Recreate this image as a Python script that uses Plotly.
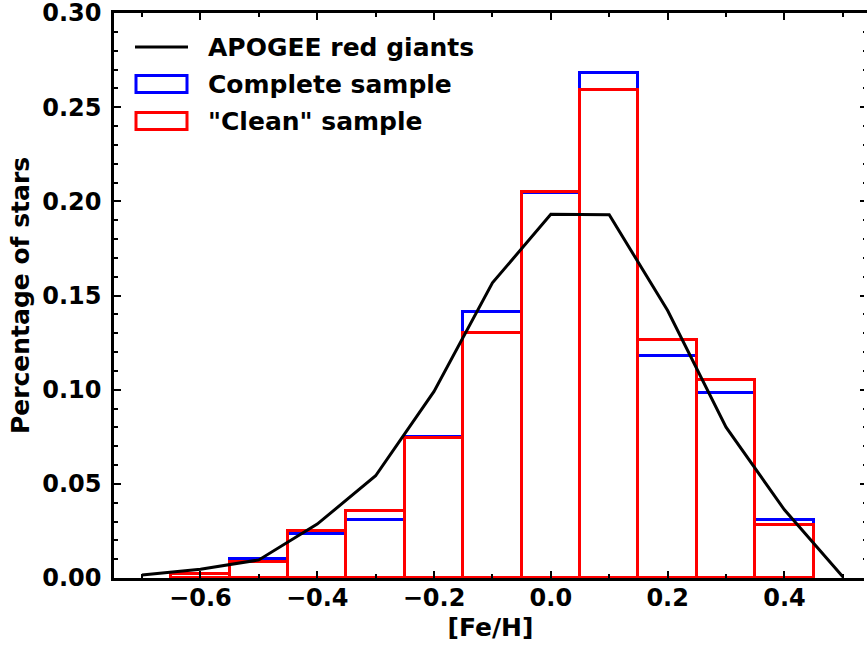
import plotly.graph_objects as go

# ---- data ----
bin_centers = [-0.6, -0.5, -0.4, -0.3, -0.2, -0.1, 0.0, 0.1, 0.2, 0.3, 0.4]
complete_sample = [0.002, 0.0101, 0.0234, 0.0309, 0.0750, 0.1413, 0.2043, 0.268, 0.118, 0.098, 0.0307]
clean_sample = [0.002, 0.0087, 0.0250, 0.0356, 0.0746, 0.1302, 0.2052, 0.259, 0.1266, 0.1052, 0.0284]
bin_width = 0.1

apogee_x = [-0.7, -0.6, -0.5, -0.4, -0.3, -0.2, -0.1, 0.0, 0.1, 0.2, 0.3, 0.4, 0.5]
apogee_y = [0.0016, 0.0046, 0.0096, 0.0286, 0.0543, 0.0991, 0.1567, 0.1931, 0.1929, 0.142, 0.0801, 0.0362, 0.0007]

legend_labels = ["APOGEE red giants", "Complete sample", '"Clean" sample']
x_title = "[Fe/H]"
y_title = "Percentage of stars"

# ---- styling ----
FONT = "DejaVu Sans"
FS_TICK = 24
FS_TEXT = 25
W, H = 867, 646
ML, MR, MT, MB = 114, 0, 13, 68
PW, PH = W - ML - MR, H - MT - MB
LW = 3


def px(xp):
    return (xp - ML) / PW


def py(yp):
    return (H - MB - yp) / PH


fig = go.Figure()
fig.add_trace(go.Bar(x=bin_centers, y=complete_sample, width=bin_width,
                     marker=dict(color="rgba(0,0,0,0)", line=dict(color="#0000ff", width=LW)),
                     showlegend=False, name=legend_labels[1]))
fig.add_trace(go.Bar(x=bin_centers, y=clean_sample, width=bin_width,
                     marker=dict(color="rgba(0,0,0,0)", line=dict(color="#ff0000", width=LW)),
                     showlegend=False, name=legend_labels[2]))
fig.add_trace(go.Scatter(x=apogee_x, y=apogee_y, mode="lines",
                         line=dict(color="black", width=LW),
                         showlegend=False, name=legend_labels[0]))

# manual legend (matplotlib-style)
rows_y = [47, 84, 121]
fig.add_shape(type="line", xref="paper", yref="paper",
              x0=px(135), x1=px(188), y0=py(rows_y[0]), y1=py(rows_y[0]),
              line=dict(color="black", width=LW))
for yc, col in zip(rows_y[1:], ["#0000ff", "#ff0000"]):
    fig.add_shape(type="rect", xref="paper", yref="paper",
                  x0=px(136), x1=px(187), y0=py(yc - 8.5), y1=py(yc + 8.5),
                  line=dict(color=col, width=LW), fillcolor="rgba(0,0,0,0)")
for yc, lab in zip(rows_y, legend_labels):
    fig.add_annotation(xref="paper", yref="paper", x=px(206), y=py(yc),
                       text=lab, showarrow=False, xanchor="left", yanchor="middle",
                       font=dict(family=FONT, size=FS_TEXT, color="black", weight="bold"))

# the reference is cropped just before its right spine: mask the spine at the edge
fig.add_shape(type="line", xref="paper", yref="paper", x0=1, x1=1, y0=-0.01, y1=0.995,
              line=dict(color="white", width=6), layer="above")

axis_common = dict(
    showline=True, linecolor="black", linewidth=2.5, mirror="allticks",
    ticks="inside", ticklen=7, tickwidth=2, tickcolor="black",
    showgrid=False, zeroline=False, ticklabeloverflow="allow",
    tickfont=dict(family=FONT, size=FS_TICK, color="black", weight="bold"),
)

fig.update_xaxes(
    range=[-0.748, -0.748 + PW / 584.0],
    tick0=0, dtick=0.2, tickformat=".1f",
    minor=dict(dtick=0.1, tick0=0, ticks="inside", ticklen=4, tickwidth=1.5, tickcolor="black"),
    title=dict(text=x_title, font=dict(family=FONT, size=FS_TEXT, color="black", weight="bold"), standoff=8),
    ticklabelstandoff=-4,
    **axis_common,
)
fig.update_yaxes(
    range=[0, 0.30],
    tick0=0, dtick=0.05, tickformat=".2f",
    minor=dict(dtick=0.01, tick0=0, ticks="inside", ticklen=4, tickwidth=1.5, tickcolor="black"),
    title=dict(text=y_title, font=dict(family=FONT, size=FS_TEXT, color="black", weight="bold"), standoff=6),
    ticklabelstandoff=5,
    **axis_common,
)

fig.update_layout(
    width=W, height=H,
    margin=dict(l=ML, r=MR, t=MT, b=MB, autoexpand=False),
    paper_bgcolor="white", plot_bgcolor="white",
    barmode="overlay", bargap=0,
    showlegend=False,
    font=dict(family=FONT, color="black"),
)

fig.write_html("out.html", config={"displayModeBar": False},
               post_script="document.body.style.margin='0';document.body.style.overflow='hidden';")
